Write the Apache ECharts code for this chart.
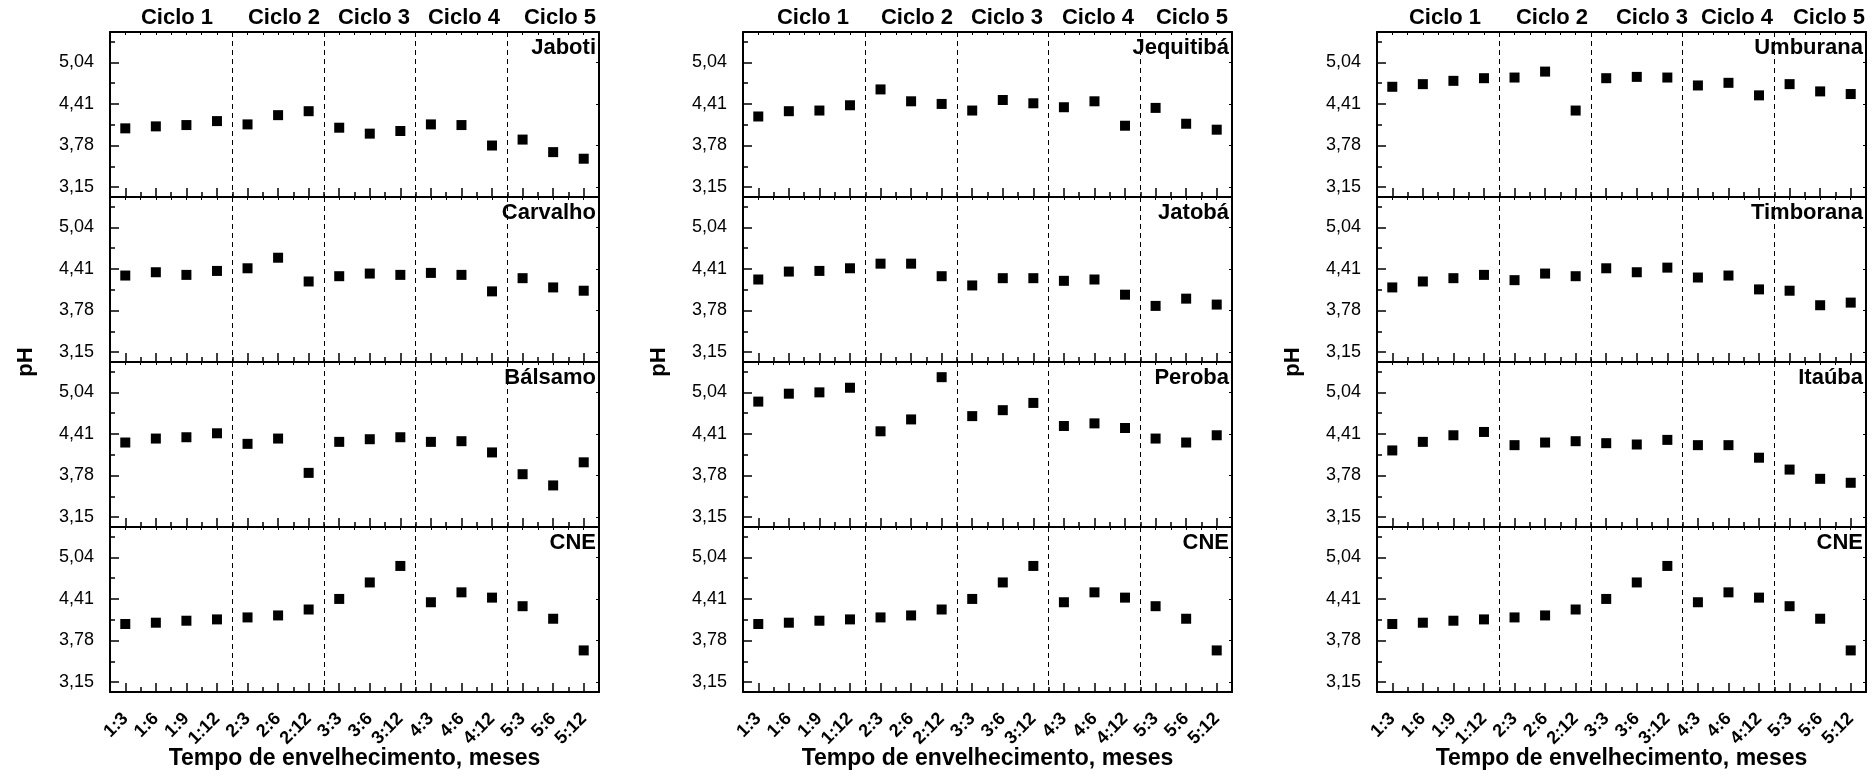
<!DOCTYPE html>
<html>
<head>
<meta charset="utf-8">
<script src="https://cdn.jsdelivr.net/npm/echarts@6/dist/echarts.min.js"></script>
<style>
  html, body { margin: 0; padding: 0; background: #fff; }
  #chart { width: 1874px; height: 777px; }
</style>
</head>
<body>
<div id="chart"></div>
<script>
// Aging time (cycle:months) on the x axis
const categories = ['1:3', '1:6', '1:9', '1:12', '2:3', '2:6', '2:12', '3:3', '3:6', '3:12',
                    '4:3', '4:6', '4:12', '5:3', '5:6', '5:12'];

// pH values per wood
const jaboti    = [4.04, 4.07, 4.09, 4.15, 4.10, 4.24, 4.30, 4.05, 3.96, 4.00, 4.10, 4.09, 3.78, 3.87, 3.68, 3.58];
const carvalho  = [4.31, 4.36, 4.32, 4.38, 4.42, 4.58, 4.22, 4.30, 4.34, 4.32, 4.35, 4.32, 4.07, 4.27, 4.13, 4.08];
const balsamo   = [4.28, 4.34, 4.36, 4.42, 4.26, 4.34, 3.82, 4.29, 4.33, 4.36, 4.29, 4.30, 4.13, 3.80, 3.63, 3.98];
const jequitiba = [4.22, 4.30, 4.31, 4.39, 4.63, 4.45, 4.41, 4.31, 4.47, 4.42, 4.36, 4.45, 4.08, 4.35, 4.11, 4.02];
const jatoba    = [4.25, 4.37, 4.38, 4.42, 4.49, 4.49, 4.30, 4.16, 4.27, 4.27, 4.23, 4.25, 4.02, 3.85, 3.96, 3.87];
const peroba    = [4.90, 5.02, 5.04, 5.11, 4.45, 4.63, 5.27, 4.68, 4.77, 4.88, 4.53, 4.57, 4.50, 4.34, 4.28, 4.39];
const umburana  = [4.67, 4.71, 4.76, 4.80, 4.81, 4.90, 4.31, 4.80, 4.82, 4.81, 4.69, 4.73, 4.54, 4.71, 4.60, 4.56];
const timborana = [4.13, 4.22, 4.27, 4.32, 4.24, 4.34, 4.30, 4.42, 4.36, 4.43, 4.28, 4.31, 4.10, 4.08, 3.86, 3.90];
const itauba    = [4.16, 4.29, 4.39, 4.44, 4.24, 4.28, 4.30, 4.27, 4.25, 4.32, 4.24, 4.24, 4.05, 3.87, 3.73, 3.67];
// Control (CNE), repeated at the foot of every column
const cne       = [4.03, 4.05, 4.08, 4.10, 4.13, 4.16, 4.25, 4.41, 4.66, 4.91, 4.36, 4.51, 4.43, 4.30, 4.11, 3.63];

const yTicks = [3.15, 3.78, 4.41, 5.04];
const cycleLabels = ['Ciclo 1', 'Ciclo 2', 'Ciclo 3', 'Ciclo 4', 'Ciclo 5'];
const xTitle = 'Tempo de envelhecimento, meses';
const yTitle = 'pH';

const columns = [
  [['Jaboti', jaboti], ['Carvalho', carvalho], ['Bálsamo', balsamo], ['CNE', cne]],
  [['Jequitibá', jequitiba], ['Jatobá', jatoba], ['Peroba', peroba], ['CNE', cne]],
  [['Umburana', umburana], ['Timborana', timborana], ['Itaúba', itauba], ['CNE', cne]]
];

// Layout (pixels)
const FONT = '"Liberation Sans", Arial, Helvetica, sans-serif';
const colLeft = [110, 743, 1377];
const plotW = 489;
const panelTop = [32, 197, 362, 527];
const panelH = 165;
const yMin = 3.0, yMax = 5.5;
const cycleOffsets = [[67, 174, 264, 354, 450], [70, 174, 264, 355, 449], [68, 175, 275, 360, 452]];

// minor y ticks halfway between the labelled ones
const step = yTicks[1] - yTicks[0];
const yMinor = yTicks.map(v => +(v + step / 2).toFixed(3));

// first category of each new cycle -> dashed separators
const cycleStarts = categories
  .map((c, i) => (i > 0 && c.split(':')[0] !== categories[i - 1].split(':')[0]) ? i : -1)
  .filter(i => i >= 0);

const black = '#000';
const grids = [], xAxes = [], yAxes = [], series = [], graphics = [];

columns.forEach((panels, c) => {
  panels.forEach(([name, values], r) => {
    const g = grids.length;
    const isBottom = r === panels.length - 1;
    grids.push({ left: colLeft[c], top: panelTop[r], width: plotW, height: panelH, outerBoundsMode: 'none' });

    // main category axis: centred ticks, labels on the bottom panel, dashed cycle separators
    xAxes.push({
      gridIndex: g, type: 'category', data: categories, boundaryGap: true, position: 'bottom', offset: 0,
      axisLine: { show: true, onZero: false, lineStyle: { color: black, width: 2 } },
      axisTick: { show: true, inside: true, alignWithLabel: true, length: 9, interval: 0,
                  lineStyle: { color: black, width: 1.5 } },
      axisLabel: { show: isBottom, interval: 0, rotate: 45, margin: 24, fontSize: 18, fontWeight: 'bold',
                   color: black, fontFamily: FONT },
      splitLine: { show: true, interval: (i) => cycleStarts.indexOf(i) >= 0,
                   lineStyle: { color: black, width: 1, type: [5, 4] } }
    });
    const xi = xAxes.length - 1;
    // minor ticks between categories
    xAxes.push({
      gridIndex: g, type: 'category', data: categories, boundaryGap: true, position: 'bottom', offset: 0,
      axisLine: { show: false, onZero: false },
      axisTick: { show: true, inside: true, length: 5, interval: 0, lineStyle: { color: black, width: 1.5 } },
      axisLabel: { show: false }, splitLine: { show: false }
    });
    // top frame with small ticks
    xAxes.push({
      gridIndex: g, type: 'value', position: 'top', offset: 0, min: -0.5, max: categories.length - 0.5, interval: 0.5,
      axisLine: { show: true, onZero: false, lineStyle: { color: black, width: 2 } },
      axisTick: { show: true, inside: true, length: 3, lineStyle: { color: black, width: 1 } },
      axisLabel: { show: false }, splitLine: { show: false }
    });

    yAxes.push({
      gridIndex: g, type: 'value', position: 'left', offset: 0, min: yMin, max: yMax,
      axisLine: { show: true, onZero: false, lineStyle: { color: black, width: 2 } },
      axisTick: { show: true, inside: true, length: 9, customValues: yTicks, lineStyle: { color: black, width: 1.5 } },
      axisLabel: { show: true, customValues: yTicks, margin: 16, fontSize: 18, color: black, fontFamily: FONT,
                   formatter: v => v.toFixed(2).replace('.', ',') },
      splitLine: { show: false }
    });
    const yi = yAxes.length - 1;
    yAxes.push({
      gridIndex: g, type: 'value', position: 'left', offset: 0, min: yMin, max: yMax,
      axisLine: { show: false, onZero: false },
      axisTick: { show: true, inside: true, length: 5, customValues: yMinor, lineStyle: { color: black, width: 1.5 } },
      axisLabel: { show: false }, splitLine: { show: false }
    });
    yAxes.push({
      gridIndex: g, type: 'value', position: 'right', offset: 0, min: yMin, max: yMax,
      axisLine: { show: true, onZero: false, lineStyle: { color: black, width: 2 } },
      axisTick: { show: true, inside: true, length: 3, customValues: yTicks, lineStyle: { color: black, width: 1 } },
      axisLabel: { show: false }, splitLine: { show: false }
    });

    series.push({
      type: 'scatter', name: name, xAxisIndex: xi, yAxisIndex: yi,
      data: values.map((v, i) => [categories[i], v]),
      symbol: 'rect', symbolSize: 10, itemStyle: { color: black, opacity: 1 }, silent: true, z: 5
    });

    // panel name, top right
    graphics.push({
      type: 'text', x: colLeft[c] + plotW - 3, y: panelTop[r] + 15.5, z: 10,
      style: { text: name, align: 'right', verticalAlign: 'middle', fontSize: 22, fontWeight: 'bold',
               fontFamily: FONT, fill: black }
    });
  });

  // cycle headings above the column
  cycleLabels.forEach((t, k) => {
    graphics.push({
      type: 'text', x: colLeft[c] + cycleOffsets[c][k], y: 18,
      style: { text: t, align: 'center', verticalAlign: 'middle', fontSize: 22, fontWeight: 'bold',
               fontFamily: FONT, fill: black }
    });
  });

  // y title
  graphics.push({
    type: 'text', x: colLeft[c] - 84, y: (panelTop[0] + panelTop[3] + panelH) / 2, rotation: Math.PI / 2,
    style: { text: yTitle, align: 'center', verticalAlign: 'middle', fontSize: 22, fontWeight: 'bold',
             fontFamily: FONT, fill: black }
  });
  // x title
  graphics.push({
    type: 'text', x: colLeft[c] + plotW / 2, y: 759,
    style: { text: xTitle, align: 'center', verticalAlign: 'middle', fontSize: 23, fontWeight: 'bold',
             fontFamily: FONT, fill: black }
  });
});

const chart = echarts.init(document.getElementById('chart'), null, { renderer: 'canvas' });
chart.setOption({
  animation: false,
  backgroundColor: '#fff',
  textStyle: { fontFamily: FONT },
  grid: grids,
  xAxis: xAxes,
  yAxis: yAxes,
  series: series,
  graphic: graphics
});
</script>
</body>
</html>
